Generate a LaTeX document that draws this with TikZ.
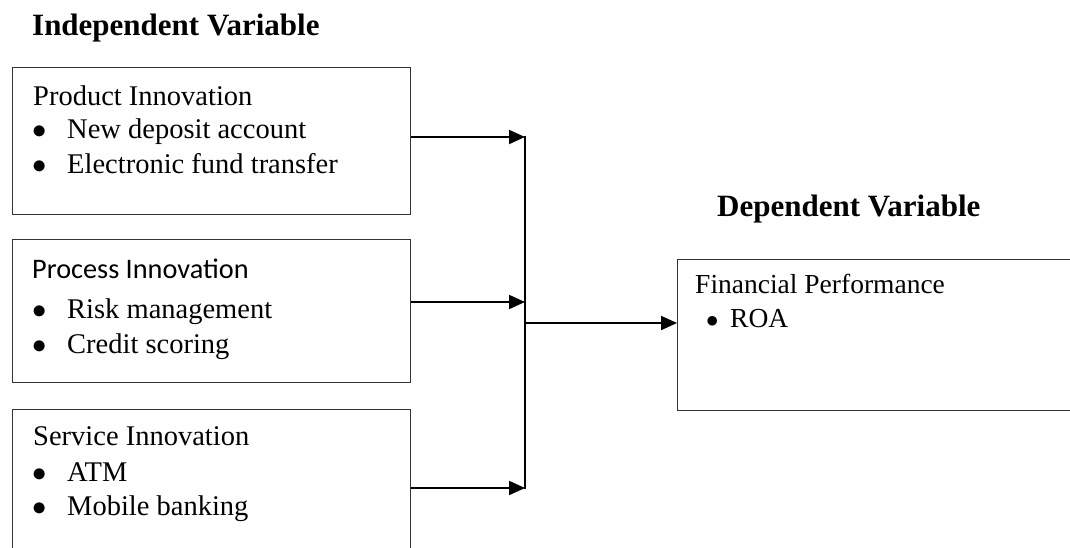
\documentclass[tikz,border=0pt]{standalone}
\usepackage{fontspec}
\setmainfont{Liberation Serif}
\newfontfamily\calib{Carlito}
\usetikzlibrary{arrows.meta}
\newcommand{\bigbul}{\scalebox{1.15}{$\bullet$}}
\tikzset{
  boxline/.style={draw=black!80, line width=1.3pt},
  txt/.style={anchor=base west, inner sep=0pt, font=\fontsize{28.5}{34}\selectfont},
  head/.style={anchor=base west, inner sep=0pt, font=\fontsize{31}{36}\selectfont\bfseries},
  arr/.style={line width=2pt, -{Triangle[length=16pt,width=14pt]}},
  conn/.style={line width=2pt}
}
\begin{document}
\begin{tikzpicture}[x=1pt,y=-1pt]
\useasboundingbox (0,0) rectangle (1070,547);
\clip (0,0) rectangle (1070,547);
% headings
\node[head] (h1) at (32,35) {Independent Variable};
\node[head] (h2) at (717,216) {Dependent Variable};
% boxes
\node[boxline, rectangle, minimum width=398pt, minimum height=147pt, anchor=north west, inner sep=0pt] (b1) at (12,67) {};
\node[boxline, rectangle, minimum width=398pt, minimum height=143pt, anchor=north west, inner sep=0pt] (b2) at (12,239) {};
\node[boxline, rectangle, minimum width=398pt, minimum height=160pt, anchor=north west, inner sep=0pt] (b3) at (12,409) {};
\node[boxline, rectangle, minimum width=410pt, minimum height=151pt, anchor=north west, inner sep=0pt] (b4) at (677,259) {};
% box 1 text
\node[txt] (t1) at (33,105) {Product Innovation};
\node[txt] (t1a) at (32,138) {\bigbul};
\node[txt] (t1b) at (67,138) {New deposit account};
\node[txt] (t1c) at (32,173) {\bigbul};
\node[txt] (t1d) at (67,173) {Electronic fund transfer};
% box 2 text
\node[txt, font=\fontsize{28.3}{34}\calib] (t2) at (32,278) {Process Innovation};
\node[txt] (t2a) at (32,318) {\bigbul};
\node[txt] (t2b) at (67,318) {Risk management};
\node[txt] (t2c) at (32,353) {\bigbul};
\node[txt] (t2d) at (67,353) {Credit scoring};
% box 3 text
\node[txt] (t3) at (33,445) {Service Innovation};
\node[txt] (t3a) at (32,481) {\bigbul};
\node[txt] (t3b) at (67,481) {ATM};
\node[txt] (t3c) at (32,515) {\bigbul};
\node[txt] (t3d) at (67,515) {Mobile banking};
% box 4 text
\node[txt, font=\fontsize{27.5}{33}\selectfont] (t4) at (695,293) {Financial Performance};
\node[txt, font=\fontsize{27.5}{33}\selectfont] (t4a) at (706,327) {$\bullet$};
\node[txt, font=\fontsize{27.5}{33}\selectfont] (t4b) at (730,327) {ROA};
% connectors
\coordinate (j1) at (525,137);
\coordinate (j2) at (525,302);
\coordinate (j3) at (525,488);
\coordinate (jo) at (525,323);
\draw[arr] (j1 -| b1.east) -- (j1);
\draw[arr] (j2 -| b2.east) -- (j2);
\draw[arr] (j3 -| b3.east) -- (j3);
\draw[conn] ([yshift=1pt]j1) -- ([yshift=-1pt]j3);
\draw[arr] (jo) -- (jo -| b4.west);
\end{tikzpicture}
\end{document}
